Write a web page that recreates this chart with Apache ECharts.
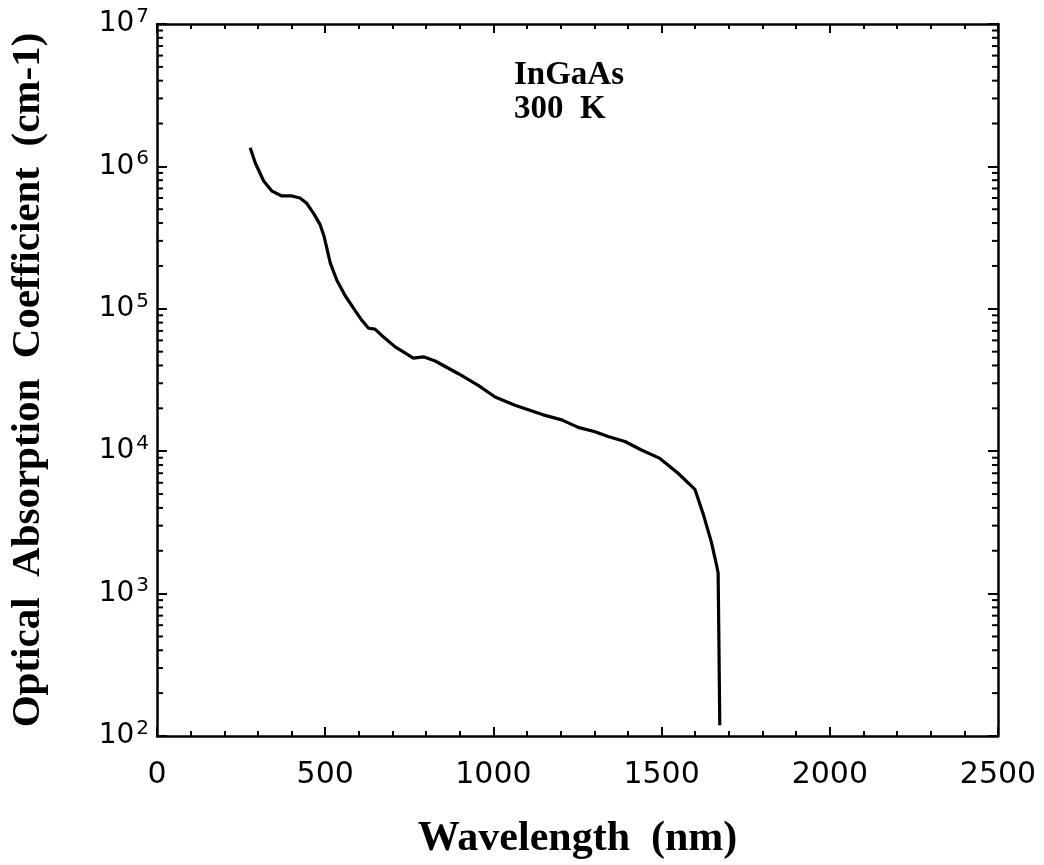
<!DOCTYPE html>
<html>
<head>
<meta charset="utf-8">
<script src="https://cdn.jsdelivr.net/npm/echarts@6/dist/echarts.min.js"></script>
<style>
html,body{margin:0;padding:0;background:#fff;}
#chart{width:1044px;height:865px;}
</style>
</head>
<body>
<div id="chart"></div>
<script>
// Wavelength (nm)
const wavelength = [277, 292, 317, 342, 371, 401, 425, 445, 465, 485, 497, 515, 535, 559, 589, 609, 629, 648, 668, 708, 737, 762, 792, 827, 896, 955, 1005, 1064, 1148, 1203, 1252, 1302, 1341, 1391, 1440, 1495, 1549, 1599, 1624, 1648, 1663, 1668, 1670, 1673];
// Optical absorption coefficient (cm-1)
const absorption = [1.35e6, 1.06e6, 7.9e5, 6.7e5, 6.2e5, 6.2e5, 6.0e5, 5.5e5, 4.7e5, 3.9e5, 3.2e5, 2.1e5, 1.58e5, 1.24e5, 9.7e4, 8.3e4, 7.3e4, 7.2e4, 6.5e4, 5.4e4, 4.9e4, 4.5e4, 4.6e4, 4.3e4, 3.5e4, 2.9e4, 2.4e4, 2.1e4, 1.8e4, 1.66e4, 1.47e4, 1.37e4, 1.27e4, 1.17e4, 1.02e4, 8.9e3, 7.0e3, 5.4e3, 3.6e3, 2.3e3, 1.6e3, 1.4e3, 550, 119];
const xTicks = [0, 500, 1000, 1500, 2000, 2500];
const yDecades = [100, 1000, 10000, 100000, 1000000, 10000000];
const minorMultipliers = [2, 3, 4, 5, 6, 7, 8, 9];
const annotation = ['InGaAs', '300  K'];

const yMinor = [];
yDecades.slice(0, -1).forEach(d => minorMultipliers.forEach(m => yMinor.push(d * m)));

const chart = echarts.init(document.getElementById('chart'));
const serif = '"Liberation Serif", "Times New Roman", serif';
const sans = '"DejaVu Sans", sans-serif';
const axisLine = { show: true, onZero: false, lineStyle: { color: '#000', width: 2.5 } };

chart.setOption({
  animation: false,
  backgroundColor: '#fff',
  grid: { left: 155, right: 46, top: 24, bottom: 127, containLabel: false },
  xAxis: [{
    type: 'value', position: 'bottom', min: xTicks[0], max: xTicks[xTicks.length - 1], interval: 500,
    axisLine: axisLine,
    axisTick: { show: true, inside: true, length: 9, lineStyle: { color: '#000', width: 2 } },
    minorTick: { show: true, splitNumber: 5, length: 5, lineStyle: { color: '#000', width: 2 } },
    splitLine: { show: false },
    axisLabel: { show: true, margin: 24, fontFamily: sans, fontSize: 30, color: '#000', formatter: v => String(v) },
    name: 'Wavelength  (nm)', nameLocation: 'middle', nameGap: 82,
    nameTextStyle: { fontFamily: serif, fontWeight: 'bold', fontSize: 42, color: '#000' }
  }, {
    type: 'value', position: 'top', min: xTicks[0], max: xTicks[xTicks.length - 1], interval: 500,
    axisLine: axisLine,
    axisTick: { show: true, inside: true, length: 9, lineStyle: { color: '#000', width: 2 } },
    minorTick: { show: true, splitNumber: 5, length: 5, lineStyle: { color: '#000', width: 2 } },
    splitLine: { show: false },
    axisLabel: { show: false }
  }],
  yAxis: [{
    type: 'log', logBase: 10, position: 'left', min: yDecades[0], max: yDecades[yDecades.length - 1],
    axisLine: axisLine,
    axisTick: { show: true, inside: true, length: 10, lineStyle: { color: '#000', width: 2 } },
    splitLine: { show: false },
    axisLabel: {
      show: true, margin: 8, color: '#000',
      formatter: v => '{b|10}{s|' + Math.round(Math.log10(v)) + '}',
      rich: {
        b: { fontFamily: sans, fontSize: 28, color: '#000' },
        s: { fontFamily: sans, fontSize: 20, color: '#000', padding: [0, 0, 15, 2] }
      }
    },
    name: 'Optical  Absorption  Coefficient  (cm-1)', nameLocation: 'middle', nameGap: 108, nameRotate: 90,
    nameTextStyle: { fontFamily: serif, fontWeight: 'bold', fontSize: 41, color: '#000' }
  }, {
    type: 'log', logBase: 10, position: 'right', min: yDecades[0], max: yDecades[yDecades.length - 1],
    axisLine: axisLine,
    axisTick: { show: true, inside: true, length: 10, lineStyle: { color: '#000', width: 2 } },
    splitLine: { show: false },
    axisLabel: { show: false }
  }],
  graphic: [{
    type: 'text', left: 514, top: 58,
    style: { text: annotation.join('\n'), font: 'bold 33px ' + serif, fill: '#000', lineHeight: 34 }
  }],
  series: [{
    type: 'line', xAxisIndex: 0, yAxisIndex: 0,
    data: wavelength.map((w, i) => [w, absorption[i]]),
    showSymbol: false, symbol: 'none',
    lineStyle: { color: '#000', width: 3.2 }
  }, {
    type: 'custom', xAxisIndex: 0, yAxisIndex: 0, silent: true, clip: false,
    data: yMinor.map(v => [0, v]),
    renderItem: (params, api) => {
      const v = api.value(1);
      const p = api.coord([xTicks[0], v]);
      const q = api.coord([xTicks[xTicks.length - 1], v]);
      const st = { stroke: '#000', lineWidth: 2 };
      return { type: 'group', children: [
        { type: 'line', shape: { x1: p[0], y1: p[1], x2: p[0] + 6, y2: p[1] }, style: st },
        { type: 'line', shape: { x1: q[0] - 6, y1: q[1], x2: q[0], y2: q[1] }, style: st }
      ] };
    }
  }]
});
</script>
</body>
</html>
